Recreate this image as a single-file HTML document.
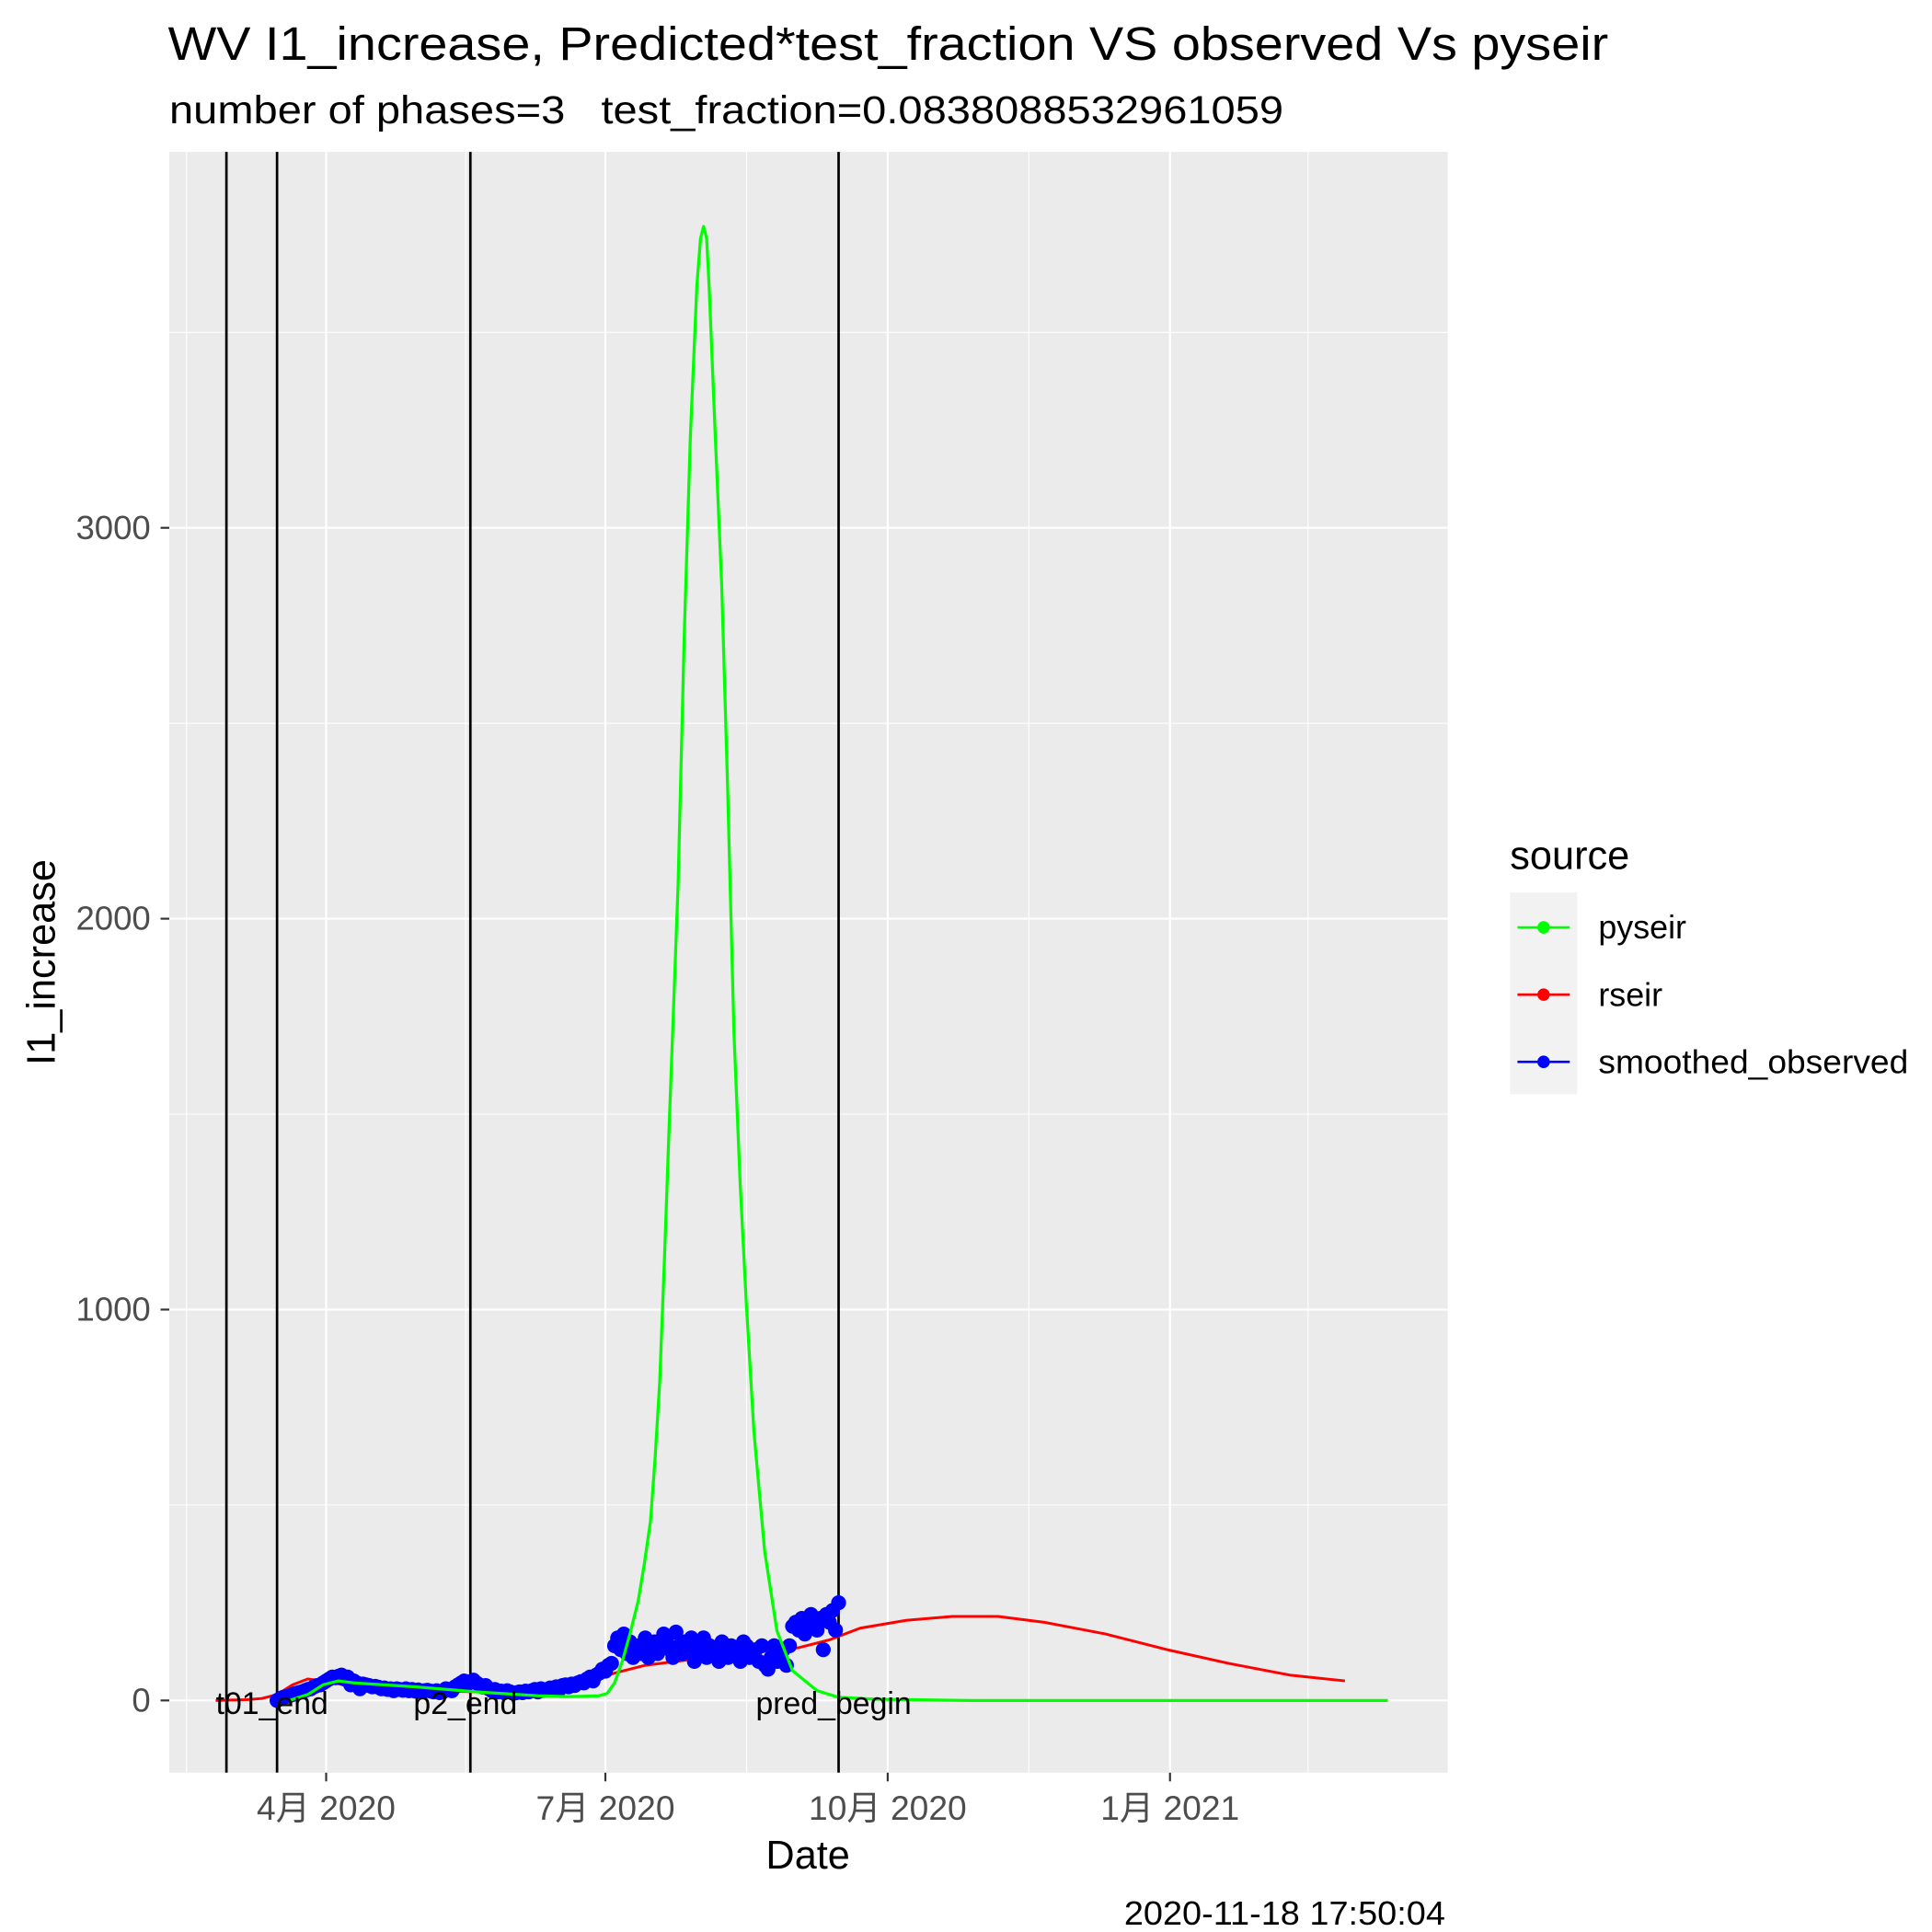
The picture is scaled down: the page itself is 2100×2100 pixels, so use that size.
<!DOCTYPE html>
<html><head><meta charset="utf-8"><style>
html,body{margin:0;padding:0;background:#fff}
svg{display:block}
text{font-family:"Liberation Sans","Noto Sans CJK SC",sans-serif}
</style></head><body>
<svg id="chart" width="2100" height="2100" viewBox="0 0 1552 1552" xmlns="http://www.w3.org/2000/svg">
<text x="135" y="48" font-size="38" textLength="1157" lengthAdjust="spacingAndGlyphs">WV I1_increase, Predicted*test_fraction VS observed Vs pyseir</text>
<text x="136" y="99" font-size="31.5" xml:space="preserve" textLength="895" lengthAdjust="spacingAndGlyphs">number of phases=3   test_fraction=0.0838088532961059</text>
<rect x="136" y="122" width="1027" height="1302" fill="#ebebeb"/>
<g id="grid"></g>
<g id="vlines"></g>
<g id="series"></g>
<g id="axes"></g>
<text x="649" y="1501" font-size="32" text-anchor="middle">Date</text>
<text transform="translate(44,773) rotate(-90)" font-size="32" text-anchor="middle">I1_increase</text>
<g>
<text x="1213" y="698" font-size="32">source</text>
<rect x="1213" y="717" width="54" height="162" fill="#f2f2f2"/>
<g><line x1="1219" x2="1261" y1="745" y2="745" stroke="#00ff00" stroke-width="2"/><circle cx="1240" cy="745" r="5" fill="#00ff00"/><text x="1284" y="754" font-size="26.5">pyseir</text></g>
<g><line x1="1219" x2="1261" y1="799" y2="799" stroke="#ff0000" stroke-width="2"/><circle cx="1240" cy="799" r="5" fill="#ff0000"/><text x="1284" y="808" font-size="26.5">rseir</text></g>
<g><line x1="1219" x2="1261" y1="853" y2="853" stroke="#0000ff" stroke-width="2"/><circle cx="1240" cy="853" r="5" fill="#0000ff"/><text x="1284" y="862" font-size="26.5" textLength="249" lengthAdjust="spacingAndGlyphs">smoothed_observed</text></g>
</g>
<text x="1161" y="1546" font-size="27" text-anchor="end" textLength="258" lengthAdjust="spacingAndGlyphs">2020-11-18 17:50:04</text>
</svg>
<script>
// day-of-year 2020 (Jan 1 = 0)
const xTickDays = [91, 182, 274, 366];
const xTickLabels = ["4月 2020", "7月 2020", "10月 2020", "1月 2021"];
const yTicks = [0, 1000, 2000, 3000];
const yTickLabels = ["0", "1000", "2000", "3000"];
const phaseDays = [58.5, 75, 138, 258];
const phaseLabels = ["", "t01_end", "p2_end", "pred_begin"];
const pyseirDays = [79,85,90,95,100,120,140,160,170,176,180,182.6,185,187.6,190,192.7,194.7,196.7,198.2,199.7,201.2,202.7,204.2,205.7,207.7,209.7,211.8,213,214,215,215.8,217.8,219.9,221.8,223.9,225.9,227.9,230.4,233.9,237.9,243,251,258,270,301,350,400,437];
const pyseirVals = [0,15,40,50,45,35,22,12,10,11,12,18,45,102,170,255,350,459,620,815,1120,1452,1770,2089,2726,3236,3618,3740,3771,3740,3618,3236,2854,2344,1707,1325,1019,688,382,178,76,25,8,3,0,0,0,0];
const rseirDays = [55,65,70,75,80,85,90,100,110,125,140,155,165,175,185,195,205,215,225,235,245,255,265,280,295,310,325,345,365,385,405,423];
const rseirVals = [0,2,5,15,40,55,50,35,30,25,22,28,35,45,70,90,100,110,120,128,135,155,185,205,215,215,200,170,130,95,65,50];
const obsStartDay = 75;
const obsVals = [0,5,8,10,12,15,18,20,22,25, 28,30,35,38,40,45,50,55,60,58, 62,65,55,60,40,50,45,30,42,40,
38,35,36,34,30,32,28,30,25,30, 28,26,30,25,28,24,27,22,25,26, 24,22,25,20,22,30,28,25,35,40,
45,50,42,48,52,45,40,35,38,30, 25,28,22,24,20,25,22,18,20,22, 20,24,22,25,28,22,30,26,28,32,
30,35,28,38,40,35,42,38,45,48, 45,55,60,50,65,70,80,75,90,95, 140,160,130,170,120,150,110,130,140,120,
160,110,130,150,120,140,170,160,130,110, 175,140,120,150,130,160,100,140,130,160, 110,140,130,120,100,150,130,110,140,120,
130,100,150,140,110,120,130,100,140,90, 80,110,140,100,120,130,90,140,190,200, 180,210,170,200,220,190,180,210,130,220,
200,230,180,250];

const NS = "http://www.w3.org/2000/svg";
const X = d => 262 + (d - 91) * 2.465;
const Y = v => 1366 - v * 0.314;
function mk(tag, attrs, parent) {
  const e = document.createElementNS(NS, tag);
  for (const k in attrs) e.setAttribute(k, attrs[k]);
  parent.appendChild(e);
  return e;
}
const grid = document.getElementById("grid");
const axes = document.getElementById("axes");
const vl = document.getElementById("vlines");
const ser = document.getElementById("series");

const minorDays = [45.5, 136.5, 228, 320, 411];
minorDays.forEach(m => {
  const g = mk("line", {x1: X(m), x2: X(m), y1: 122, y2: 1424, stroke: "#fff", "stroke-width": 0.8}, grid);
  
  
});
yTicks.forEach(v => {
  const m = v + 500;
  const g = mk("line", {x1: 136, x2: 1163, y1: Y(m), y2: Y(m), stroke: "#fff", "stroke-width": 0.8}, grid);
  
  
});
xTickDays.forEach((d, i) => {
  const g = mk("line", {x1: X(d), x2: X(d), y1: 122, y2: 1424, stroke: "#fff", "stroke-width": 1.6}, grid);
  
  
  const t = mk("line", {x1: X(d), x2: X(d), y1: 1424, y2: 1431, stroke: "#333", "stroke-width": 1.6}, axes);
  
  
  const l = mk("text", {x: X(d), y: 1462, "font-size": 27.5, fill: "#4d4d4d", "text-anchor": "middle"}, axes);
  l.textContent = xTickLabels[i];
  
  
});
yTicks.forEach((v, i) => {
  const g = mk("line", {x1: 136, x2: 1163, y1: Y(v), y2: Y(v), stroke: "#fff", "stroke-width": 1.6}, grid);
  
  
  const t = mk("line", {x1: 129, x2: 136, y1: Y(v), y2: Y(v), stroke: "#333", "stroke-width": 1.6}, axes);
  
  
  const l = mk("text", {x: 121, y: Y(v) + 9, "font-size": 27, fill: "#4d4d4d", "text-anchor": "end"}, axes);
  l.textContent = yTickLabels[i];
  
  
});
phaseDays.forEach(d => {
  const l = mk("line", {x1: X(d), x2: X(d), y1: 122, y2: 1424, stroke: "#000", "stroke-width": 2}, vl);
  
  
});
function poly(days, vals, color, w, name) {
  const p = mk("polyline", {points: days.map((d, i) => X(d) + "," + Y(vals[i])).join(" "), fill: "none", stroke: color, "stroke-width": w, "stroke-linejoin": "round"}, ser);
  
  
}
poly(rseirDays, rseirVals, "#ff0000", 2.2, "rseir-line");
const og = mk("g", {}, ser);


obsVals.forEach((v, i) => {
  const c = mk("circle", {cx: X(obsStartDay + i), cy: Y(v), r: 6, fill: "#0000ff"}, og);
  
  
});
poly(pyseirDays, pyseirVals, "#00ff00", 2.4, "pyseir-line");
phaseDays.forEach((d, i) => {
  if (!phaseLabels[i]) return;
  const t = mk("text", {x: X(d) - 4, y: 1377, "font-size": 25, "text-anchor": "middle"}, vl.parentNode);
  t.textContent = phaseLabels[i];
  
  
});
</script>
</body></html>
